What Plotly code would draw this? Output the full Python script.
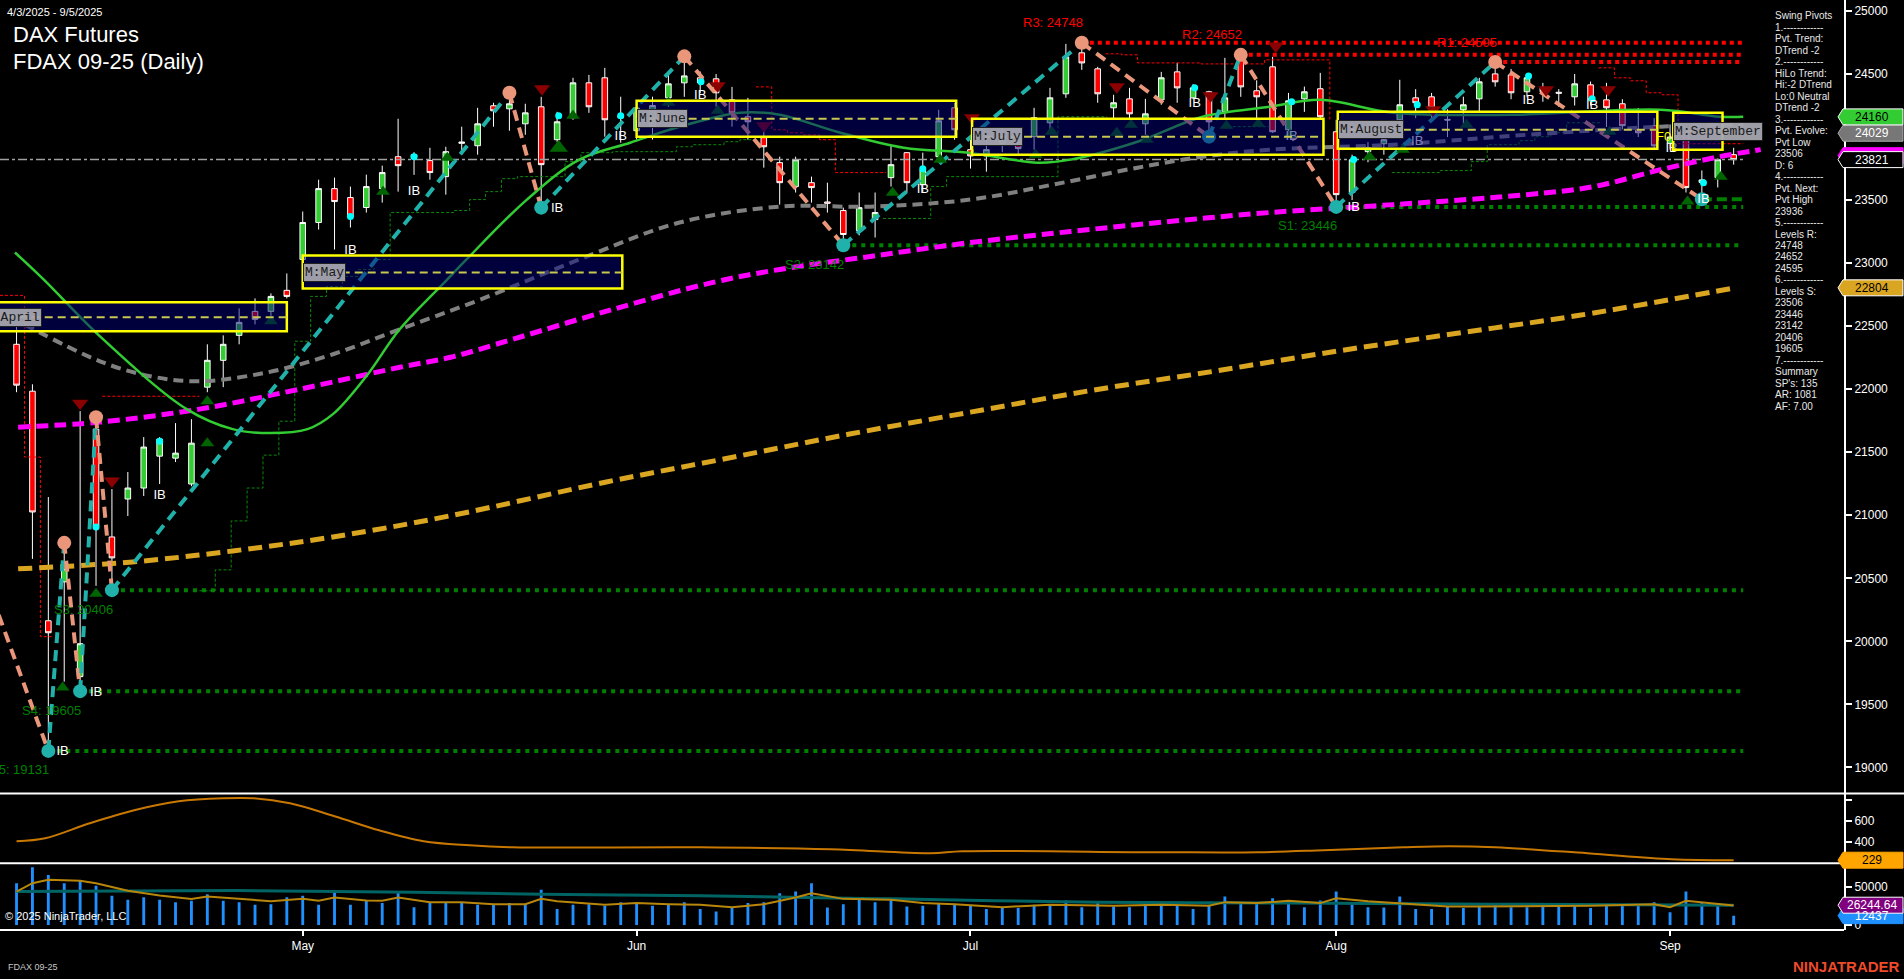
import plotly.graph_objects as go

# ---------------- DATA ----------------
bar_index = list(range(109))  # daily bars 2025-04-03 .. 2025-09-05
month_ticks = [18, 39, 60, 83, 104]
month_labels = ["May", "Jun", "Jul", "Aug", "Sep"]
price_ticks = [19000, 19500, 20000, 20500, 21000, 21500, 22000, 22500, 23000, 23500, 24500, 25000]

opens = [22356, 21984, 20163, 20472, 19720, 21683, 20828, 21129, 21216, 21469, 21453, 21248, 22016, 22229, 22427, 22617, 22617, 22784,
         23029, 23322, 23591, 23520, 23441, 23591, 23844, 23840, 23813, 23686, 23950, 23931, 24248, 24224, 24105, 24240, 23979, 24153, 24430, 24470, 24153,
         24050, 24080, 24311, 24430, 24470, 24462, 24295, 24161, 23995, 23797, 23607, 23638, 23485, 23417, 23258, 23345, 23678, 23876, 23622, 23844, 24232,
         23900, 23850, 23950, 23939, 24003, 24113, 24343, 24668, 24541, 24232, 24303, 24105, 24295, 24517, 24311, 24359, 24200, 24630, 24367, 24557, 24058, 24303, 24383,
         24042, 23560, 23884, 23947, 24137, 24311, 24319, 24140, 24216, 24303, 24501, 24493, 24359, 24390, 24355, 24319, 24414, 24295, 24264, 24058, 24090,
         23950, 24034, 23640, 23678, 23860]
highs = [22500, 22039, 21145, 20781, 21826, 21778, 21208, 21343, 21620, 21620, 21731, 21762, 22356, 22427, 22641, 22720, 22760, 22918,
         23409, 23662, 23678, 23607, 23702, 23773, 24145, 23880, 23915, 23923, 24082, 24232, 24272, 24351, 24264, 24319, 24200, 24470, 24493, 24549, 24320,
         24280, 24320, 24493, 24640, 24520, 24500, 24398, 24311, 24074, 23844, 23844, 23686, 23638, 23440, 23560, 23560, 23939, 23876, 23876, 24216, 24272,
         23980, 24000, 24080, 24020, 24232, 24390, 24739, 24748, 24557, 24335, 24390, 24303, 24517, 24588, 24420, 24367, 24628, 24655, 24450, 24636, 24350, 24400, 24509,
         24137, 23860, 23960, 24050, 24454, 24380, 24350, 24220, 24320, 24470, 24595, 24540, 24500, 24430, 24380, 24500, 24440, 24430, 24300, 24230, 24150,
         24100, 24060, 23735, 23830, 23915]
lows = [21976, 20654, 19131, 19680, 19605, 20440, 20406, 20994, 21153, 21248, 21422, 21230, 21976, 22016, 22356, 22514, 22530, 22720,
        22973, 23266, 23108, 23282, 23401, 23480, 23567, 23700, 23662, 23543, 23860, 23860, 24082, 24050, 24018, 23440, 23960, 24137, 24192, 24003, 23955,
        23980, 23980, 24240, 24319, 24350, 24240, 24082, 23979, 23757, 23464, 23560, 23480, 23401, 23142, 23220, 23203, 23607, 23560, 23560, 23797, 23979,
        23750, 23725, 23880, 23850, 23900, 24050, 24311, 24533, 24272, 24137, 24137, 24018, 24256, 24272, 24300, 24003, 24137, 24319, 24137, 24034, 24000, 24200, 24137,
        23446, 23500, 23800, 23860, 24100, 24150, 24150, 24000, 24100, 24200, 24400, 24300, 24320, 24280, 24240, 24250, 24250, 24080, 24060, 24000, 23900,
        23900, 23560, 23506, 23600, 23781]
closes = [22032, 21026, 20068, 20575, 19981, 20915, 20662, 21216, 21541, 21604, 21493, 21572, 22229, 22356, 22530, 22554, 22736, 22736,
          23322, 23591, 23488, 23369, 23607, 23718, 23773, 23860, 23718, 23884, 23960, 24105, 24208, 24264, 24192, 23781, 24121, 24430, 24240, 24137, 24170,
          24230, 24250, 24422, 24485, 24430, 24351, 24192, 24121, 23923, 23638, 23820, 23599, 23475, 23227, 23440, 23401, 23781, 23638, 23742, 24129, 24058,
          23850, 23900, 24000, 23908, 24153, 24311, 24636, 24588, 24343, 24272, 24184, 24184, 24470, 24390, 24390, 24121, 24311, 24398, 24319, 24042, 24287, 24359, 24161,
          23543, 23820, 23915, 23979, 24256, 24272, 24232, 24135, 24256, 24438, 24438, 24351, 24470, 24359, 24348, 24422, 24295, 24232, 24090, 24034, 23930,
          24000, 23599, 23660, 23820, 23821]
volumes = [55300, 76300, 66200, 55300, 58800, 51800, 38600, 33300, 36800, 33300, 30300, 32000, 40800, 32000, 30300, 26800, 27600, 36800,
           38600, 26800, 45200, 26800, 32000, 29000, 43000, 23700, 29000, 30300, 30300, 26800, 26800, 29000, 27600, 46500, 21100, 26800, 27600, 25400, 30300,
           30300, 25400, 27600, 30300, 21100, 18000, 23200, 29000, 30300, 42100, 44300, 55300, 23200, 27600, 33300, 30300, 33300, 24600, 25400, 29000, 26800,
           25400, 21100, 22400, 22400, 26800, 27600, 32500, 23700, 29000, 24600, 23700, 27600, 25900, 25400, 21100, 26800, 37700, 30300, 29000, 35500, 32000, 23700, 32500,
           44300, 29000, 23700, 23200, 37700, 21100, 21100, 24600, 22400, 25400, 26800, 23700, 23700, 25400, 25400, 25400, 22400, 27600, 25400, 25400, 30300,
           17100, 44300, 29000, 29000, 12437]

# moving averages
sma_fast_x = [-0.1, 1.7, 5.25, 10.7, 13.6, 15.9, 18.3, 19.9, 22.0, 24.1, 27.1, 28.3, 32.1, 35.4, 38.6, 41.7, 45.5, 48.0, 51.6, 55.8, 59.9, 64.2, 66.3, 70.5, 74.6, 78.8, 82.0, 86.6, 94.1, 103.4, 107.1, 108.6]
sma_fast_y = [23084, 22871, 22419, 21842, 21683, 21652, 21683, 21802, 22103, 22475, 22871, 23029, 23504, 23821, 23955, 24082, 24193, 24177, 24042, 23915, 23876, 23797, 23821, 23963, 24161, 24240, 24295, 24193, 24177, 24216, 24161, 24160]
sma_mid_x = [0.5, 5.25, 8.4, 11.5, 15.8, 19.9, 24.1, 29.2, 35.4, 41.7, 48.0, 53.7, 60.0, 65.2, 70.5, 74.6, 78.8, 86.6, 95.0, 103.4, 108.6]
sma_mid_y = [22514, 22221, 22103, 22063, 22134, 22277, 22475, 22712, 23029, 23322, 23448, 23448, 23504, 23623, 23757, 23844, 23900, 23939, 24018, 24082, 24100]
sma_slow_x = [0.1, 5.25, 11.5, 17.8, 24.1, 27.3, 31.2, 37.5, 43.8, 48.0, 53.7, 60.0, 66.3, 72.5, 78.8, 86.6, 95.0, 99.2, 103.4, 107.1, 109.7]
sma_slow_y = [21699, 21739, 21842, 22000, 22174, 22253, 22396, 22633, 22847, 22950, 23053, 23163, 23251, 23330, 23401, 23464, 23543, 23607, 23741, 23844, 23900]
sma_200_x = [0.1, 7.3, 13.6, 19.9, 27.2, 37.1, 44.8, 52.4, 60.0, 67.7, 75.3, 83.0, 90.6, 98.3, 108.1]
sma_200_y = [20575, 20630, 20717, 20828, 20994, 21264, 21454, 21644, 21818, 21992, 22142, 22301, 22443, 22586, 22804]

# swing pivots
pivot_x = [-5, 2, 3, 4, 5, 6, 31, 33, 42, 52, 67, 75, 77, 83, 93, 106]
pivot_y = [21550, 19131, 20781, 19605, 21778, 20406, 24351, 23440, 24640, 23142, 24748, 24003, 24652, 23446, 24595, 23506]

# support / resistance levels
res_names = ["R3", "R2", "R1"]
res_x = [67, 77, 93]
res_y = [24748, 24652, 24595]
sup_names = ["S5", "S4", "S3", "S2", "S1"]
sup_x = [2, 4, 6, 52, 83]
sup_y = [19131, 19605, 20406, 23142, 23446]
evolve_x = 106
evolve_y = 23506
last_price = 23821
level_end = 108.6

# trailing step lines
green_steps = [
    ([11.5, 12.5, 13.5, 14.5, 15.5, 16.5, 17.5, 18.5, 19.5, 20.5, 21.5, 22.5, 23.5, 27.5, 28.5, 29.5, 30.5, 31.5, 34.5, 35.5, 37.5, 41.5, 42.5, 44.5, 45.5, 46.6],
     [20401, 20567, 20955, 21216, 21477, 21746, 22380, 22736, 22815, 22894, 22950, 23029, 23401, 23417, 23504, 23567, 23670, 23686, 23805, 23876, 23884, 23923, 23939, 23963, 23979, 23979]),
    ([54.5, 57.5, 58.5, 65.5, 68.6], [23354, 23607, 23686, 24161, 24161]),
    ([76.5, 78.8], [24082, 24082]),
    ([86.5, 89.5, 91.5, 92.5, 94.5, 95.5, 96.5, 97.5, 99.7], [23718, 23734, 23805, 23939, 23971, 24003, 24034, 24113, 24113]),
]
red_steps = [
    ([-1.04, 0.5, 1.5, 2.3], [22744, 21462, 20037, 20037]),
    ([5.4, 11.5], [21944, 21944]),
    ([46.5, 47.5, 48.5, 49.5, 50.5, 51.5, 54.7], [24398, 24058, 24034, 24018, 23979, 23718, 23718]),
    ([68.5, 69.5, 70.5, 74.5, 78.5, 82.6, 82.6], [24660, 24652, 24588, 24580, 24612, 24612, 24137]),
    ([99.5, 100.5, 101.5, 102.5, 103.5, 104.5, 108.6], [24549, 24470, 24446, 24351, 24335, 23947, 23947]),
]

# markers
ib_x = [2.9, 5.0, 9.0, 21.0, 25.0, 34.0, 38.0, 43.0, 57.0, 74.1, 80.2, 84.1, 88.1, 95.1, 99.1, 104.1, 106.1]
ib_y = [19126, 19593, 21153, 23100, 23567, 23433, 24003, 24327, 23583, 24264, 24003, 23441, 23963, 24288, 24248, 23908, 23504]
up_tri_x = [2.9, 5.0, 12.0, 12.0, 16.0, 23.05, 27.1, 35.0, 41.0, 44.1, 55.1, 58.1, 64.1, 65.1, 69.2, 70.1, 71.1, 76.1, 78.1, 80.1, 85.1, 87.2, 91.2, 100.2, 107.2, 105.1]
up_tri_y = [19633, 20377, 21905, 21572, 22538, 23567, 23836, 24169, 24272, 24208, 23559, 23820, 23860, 24042, 24034, 24098, 23979, 24090, 24105, 24018, 23844, 23900, 24098, 24042, 23686, 23488]
big_up_x = [34.1]
big_up_y = [23915]
dn_tri_x = [4.0, 6.0, 33.05, 44.1, 47.0, 60.1, 69.2, 75.1, 79.2, 89.1, 96.2, 100.1]
dn_tri_y = [21889, 21271, 24383, 24406, 24090, 24153, 24398, 24327, 24723, 24216, 24375, 24375]
cyan_x = [5.0, 9.0, 21.0, 25.0, 34.1, 38.0, 43.05, 57.0, 74.1, 80.2, 84.1, 88.1, 95.1, 99.1, 106.1]
cyan_y = [20907, 21588, 23369, 23844, 24169, 24169, 24438, 23749, 24390, 24280, 23821, 24256, 24485, 24303, 23638]

# month boxes: name, first bar, last bar, low, high, mid
month_names = ["M:April", "M:May", "M:June", "M:July", "M:August", "M:September"]
month_x0 = [-1.5, 18.0, 39.0, 60.1, 83.1, 104.2]
month_x1 = [17.0, 38.1, 59.1, 82.2, 103.2, 107.3]
month_lo = [22459, 22799, 24003, 23860, 23908, 23900]
month_hi = [22689, 23061, 24288, 24145, 24200, 24193]
month_mid = [22570, 22926, 24145, 24003, 24058, 24045]

# lower panels
atr_x = [0, 1.8, 4.6, 7.4, 10.2, 13.0, 14.9, 17.2, 20.0, 22.8, 25.6, 28.5, 31.2, 43.0, 51.2, 57.5, 59.5, 71.9, 78.1, 82.2, 87.2, 90.1, 93.0, 98.8, 104.1, 108.0]
atr_y = [410, 438, 581, 705, 790, 819, 819, 771, 648, 514, 410, 371, 352, 352, 333, 295, 314, 305, 305, 324, 352, 362, 352, 295, 238, 229]
vma_long_x = [0, 14, 25, 33, 43, 55, 68, 80, 93, 108]
vma_long_y = [44300, 45600, 43400, 40800, 38600, 34600, 30300, 29000, 27600, 26244.64]
vma_short_x = [0, 1, 2, 4, 5, 7, 9, 11, 12, 14, 16, 18, 19, 20, 22, 23, 24, 26, 28, 30, 32, 33, 34, 37, 39, 41, 43, 45, 47, 49, 50, 52, 55, 57, 59, 62, 65, 69, 72, 75, 76, 78, 80, 82, 83, 85, 87, 88, 90, 92, 96, 99, 103, 104, 105, 107, 108]
vma_short_y = [44300, 55300, 59700, 58400, 55300, 45200, 39000, 34600, 37700, 34600, 31600, 34600, 32000, 36300, 32500, 32000, 36300, 30300, 30300, 27600, 27600, 34600, 31600, 26800, 29000, 27600, 26800, 23700, 27600, 36300, 42100, 34600, 33300, 29000, 27600, 23700, 26800, 25400, 26800, 25400, 30300, 29000, 32000, 29000, 35500, 31600, 29000, 27600, 24600, 24600, 24600, 25400, 27600, 23700, 32000, 27600, 26000]

info_lines = ["Swing Pivots", "1.------------", "Pvt. Trend:", "DTrend -2", "2.------------", "HiLo Trend:",
              "Hi:-2 DTrend", "Lo:0 Neutral", "DTrend -2", "3.------------", "Pvt. Evolve:", "Pvt Low", "23506",
              "D: 6", "4.------------", "Pvt. Next:", "Pvt High", "23936", "5.------------", "Levels R:", "24748",
              "24652", "24595", "6.------------", "Levels S:", "23506", "23446", "23142", "20406", "19605",
              "7.------------", "Summary", "SP's: 135", "AR: 1081", "AF: 7.00"]

# ---------------- GEOMETRY ----------------
W, H = 1904, 979
PLOT_RIGHT = 1844
X_RANGE = [-1.04, 114.94]
Y1_RANGE = [18794, 25087]; Y1_PX = (0, 795)
Y2_RANGE = [200, 866];     Y2_PX = (795, 865)
Y3_RANGE = [-6580, 81600]; Y3_PX = (865, 932)
FONT = "Liberation Sans, Arial, sans-serif"
MONO = "Liberation Mono, Courier New, monospace"


def dom(pxr):
    return [1 - pxr[1] / H, 1 - pxr[0] / H]


def vpx(v, rng, pxr):
    return pxr[0] + (rng[1] - v) / (rng[1] - rng[0]) * (pxr[1] - pxr[0])


def xp(px):
    return px / W


def yp(px):
    return 1 - px / H


fig = go.Figure()
shapes = []
annotations = []

# level lines
for x0, v in zip(res_x, res_y):
    fig.add_trace(go.Scatter(x=[x0, level_end], y=[v, v], mode="lines",
                             line=dict(color="#ff0000", width=4, dash="4px,4px"), hoverinfo="skip"))
for x0, v in zip(sup_x, sup_y):
    fig.add_trace(go.Scatter(x=[x0, level_end], y=[v, v], mode="lines",
                             line=dict(color="#008000", width=4, dash="4px,5px"), hoverinfo="skip"))
fig.add_trace(go.Scatter(x=[evolve_x, level_end], y=[evolve_y, evolve_y], mode="lines",
                         line=dict(color="#008000", width=4, dash="10px,5px"), hoverinfo="skip"))

# step lines
for sx, sy in green_steps:
    fig.add_trace(go.Scatter(x=sx, y=sy, mode="lines", line_shape="hv",
                             line=dict(color="#0a8a0a", width=1, dash="3px,2px"), hoverinfo="skip"))
for sx, sy in red_steps:
    fig.add_trace(go.Scatter(x=sx, y=sy, mode="lines", line_shape="hv",
                             line=dict(color="#ff0000", width=1, dash="3px,2px"), hoverinfo="skip"))

# last price line
fig.add_trace(go.Scatter(x=[X_RANGE[0], level_end], y=[last_price, last_price], mode="lines",
                         line=dict(color="#a0a0a0", width=1.5, dash="dashdot"), hoverinfo="skip"))

# candles
fig.add_trace(go.Candlestick(x=bar_index, open=opens, high=highs, low=lows, close=closes,
                             increasing=dict(line=dict(color="white", width=1), fillcolor="#33cc33"),
                             decreasing=dict(line=dict(color="white", width=1), fillcolor="#ff0000"),
                             whiskerwidth=0, hoverinfo="skip"))

# moving averages
fig.add_trace(go.Scatter(x=sma_200_x, y=sma_200_y, mode="lines", line_shape="spline",
                         line=dict(color="#daa520", width=5, dash="14px,7px"), hoverinfo="skip"))
fig.add_trace(go.Scatter(x=sma_slow_x, y=sma_slow_y, mode="lines", line_shape="spline",
                         line=dict(color="#ff00ff", width=5, dash="12px,6px"), hoverinfo="skip"))
fig.add_trace(go.Scatter(x=sma_mid_x, y=sma_mid_y, mode="lines", line_shape="spline",
                         line=dict(color="#808080", width=4, dash="10px,6px"), hoverinfo="skip"))
fig.add_trace(go.Scatter(x=sma_fast_x, y=sma_fast_y, mode="lines", line_shape="spline",
                         line=dict(color="#32cd32", width=2.5), hoverinfo="skip"))

# swing lines
for k in range(len(pivot_x) - 1):
    up = pivot_y[k + 1] > pivot_y[k]
    fig.add_trace(go.Scatter(x=[pivot_x[k], pivot_x[k + 1]], y=[pivot_y[k], pivot_y[k + 1]], mode="lines",
                             line=dict(color="#20b2aa" if up else "#e9967a", width=4, dash="11px,7px"),
                             hoverinfo="skip"))
hi_x = [x for k, x in enumerate(pivot_x) if k > 0 and (k % 2 == 0)]
hi_y = [y for k, y in enumerate(pivot_y) if k > 0 and (k % 2 == 0)]
lo_x = [x for k, x in enumerate(pivot_x) if k % 2 == 1]
lo_y = [y for k, y in enumerate(pivot_y) if k % 2 == 1]
fig.add_trace(go.Scatter(x=hi_x, y=hi_y, mode="markers",
                         marker=dict(color="#e9967a", size=14, line=dict(width=0)), hoverinfo="skip"))
fig.add_trace(go.Scatter(x=lo_x, y=lo_y, mode="markers",
                         marker=dict(color="#20b2aa", size=14, line=dict(width=0)), hoverinfo="skip"))

# signal markers
fig.add_trace(go.Scatter(x=up_tri_x, y=up_tri_y, mode="markers",
                         marker=dict(symbol="triangle-up", color="#006400", size=12), hoverinfo="skip"))
fig.add_trace(go.Scatter(x=big_up_x, y=big_up_y, mode="markers",
                         marker=dict(symbol="triangle-up", color="#006400", size=16), hoverinfo="skip"))
fig.add_trace(go.Scatter(x=dn_tri_x, y=dn_tri_y, mode="markers",
                         marker=dict(symbol="triangle-down", color="#8b0000", size=14), hoverinfo="skip"))
fig.add_trace(go.Scatter(x=cyan_x, y=cyan_y, mode="markers",
                         marker=dict(color="#00ffff", size=7), hoverinfo="skip"))
fig.add_trace(go.Scatter(x=ib_x, y=ib_y, mode="text", text=["IB"] * len(ib_x),
                         textfont=dict(color="white", size=13, family=FONT), hoverinfo="skip"))

# lower panel 1 (orange oscillator)
fig.add_trace(go.Scatter(x=atr_x, y=atr_y, yaxis="y2", mode="lines", line_shape="spline",
                         line=dict(color="#c87800", width=2), hoverinfo="skip"))
# lower panel 2 (volume)
fig.add_trace(go.Bar(x=bar_index, y=volumes, yaxis="y3", marker=dict(color="#1e90ff", line=dict(width=0)),
                     width=0.18, hoverinfo="skip"))
fig.add_trace(go.Scatter(x=vma_long_x, y=vma_long_y, yaxis="y3", mode="lines", line_shape="spline",
                         line=dict(color="#006464", width=3), hoverinfo="skip"))
fig.add_trace(go.Scatter(x=vma_short_x, y=vma_short_y, yaxis="y3", mode="lines",
                         line=dict(color="#b8860b", width=2), hoverinfo="skip"))

# month boxes (semi transparent overlay)
for nm, a, b, lo, hi, mid in zip(month_names, month_x0, month_x1, month_lo, month_hi, month_mid):
    shapes.append(dict(type="rect", xref="x", yref="y", x0=a, x1=b, y0=lo, y1=hi,
                       fillcolor="rgba(0,0,120,0.5)", line=dict(color="#ffff00", width=2.5), layer="above"))
    shapes.append(dict(type="line", xref="x", yref="y", x0=a, x1=b, y0=mid, y1=mid,
                       line=dict(color="#c8c850", width=2, dash="8px,5px"), layer="above"))
    if nm == "M:April":
        annotations.append(dict(x=1.6, y=mid, xref="x", yref="y", text=nm, showarrow=False,
                                xanchor="right", yanchor="middle", bgcolor="rgba(165,165,175,0.95)",
                                bordercolor="#202020", borderwidth=1, borderpad=1,
                                font=dict(family=MONO, size=13, color="#1a1a1a")))
    else:
        annotations.append(dict(x=a, y=mid, xref="x", yref="y", text=nm, showarrow=False,
                                xanchor="left", yanchor="middle", bgcolor="rgba(165,165,175,0.95)",
                                bordercolor="#202020", borderwidth=1, borderpad=1,
                                font=dict(family=MONO, size=13, color="#1a1a1a")))
annotations.append(dict(x=103.6, y=24003, xref="x", yref="y", text="F0", showarrow=False,
                        font=dict(family=FONT, size=13, color="#ffff00")))

# level labels
for nm, x0, v in zip(res_names, res_x, res_y):
    annotations.append(dict(x=x0 - 1.8, y=v, xref="x", yref="y", yshift=20, text=f"{nm}: {v}",
                            showarrow=False, font=dict(family=FONT, size=13, color="#ff0000")))
for nm, x0, v in zip(sup_names, sup_x, sup_y):
    annotations.append(dict(x=x0 - 1.8, y=v, xref="x", yref="y", yshift=-19, text=f"{nm}: {v}",
                            showarrow=False, font=dict(family=FONT, size=13, color="#008000")))

# panel separators
shapes.append(dict(type="line", xref="paper", yref="paper", x0=0, x1=1, y0=yp(795), y1=yp(795),
                   line=dict(color="white", width=2), layer="above"))
for yy in (865, 932):
    shapes.append(dict(type="line", xref="paper", yref="paper", x0=0, x1=xp(PLOT_RIGHT), y0=yp(yy), y1=yp(yy),
                       line=dict(color="white", width=2), layer="above"))


# price tags on the axis
def price_tag(v, rng, pxr, text, bg, fg, border=None):
    yc = vpx(v, rng, pxr)
    pts = [(1838, yc), (1843, yc - 8), (1903, yc - 8), (1903, yc + 8), (1843, yc + 8)]
    path = "M " + " L ".join(f"{xp(x):.5f},{yp(y):.5f}" for x, y in pts) + " Z"
    shapes.append(dict(type="path", xref="paper", yref="paper", path=path, fillcolor=bg,
                       line=dict(color=border or bg, width=1), layer="above"))
    annotations.append(dict(xref="paper", yref="paper", x=xp(1872), y=yp(yc), text=text, showarrow=False,
                            xanchor="center", yanchor="middle", font=dict(family=FONT, size=12, color=fg)))


price_tag(24030, Y1_RANGE, Y1_PX, "24029", "#777777", "white", "#aaaaaa")
price_tag(24160, Y1_RANGE, Y1_PX, "24160", "#33cc33", "black", "#ffffff")
price_tag(23852, Y1_RANGE, Y1_PX, "", "#ff00ff", "white")
price_tag(last_price, Y1_RANGE, Y1_PX, "23821", "#000000", "white", "#ffffff")
price_tag(22804, Y1_RANGE, Y1_PX, "22804", "#daa520", "black", "#ffffff")
price_tag(229, Y2_RANGE, Y2_PX, "229", "#ffa500", "black")
price_tag(12437, Y3_RANGE, Y3_PX, "12437", "#1e90ff", "white")
price_tag(26244.64, Y3_RANGE, Y3_PX, "26244.64", "#800080", "white", "#ffffff")

# text blocks
annotations.append(dict(xref="paper", yref="paper", x=xp(5), y=yp(12), text="4/3/2025 - 9/5/2025",
                        showarrow=False, xanchor="left", yanchor="middle", font=dict(family=FONT, size=11, color="white")))
annotations.append(dict(xref="paper", yref="paper", x=xp(11), y=yp(35), text="DAX Futures",
                        showarrow=False, xanchor="left", yanchor="middle", font=dict(family=FONT, size=22, color="white")))
annotations.append(dict(xref="paper", yref="paper", x=xp(11), y=yp(62), text="FDAX 09-25 (Daily)",
                        showarrow=False, xanchor="left", yanchor="middle", font=dict(family=FONT, size=22, color="white")))
for k, line in enumerate(info_lines):
    annotations.append(dict(xref="paper", yref="paper", x=xp(1773), y=yp(16 + k * 11.5), text=line,
                            showarrow=False, xanchor="left", yanchor="middle",
                            font=dict(family=FONT, size=10, color="#e8e8e8")))
annotations.append(dict(xref="paper", yref="paper", x=xp(3), y=yp(918), text="© 2025 NinjaTrader, LLC",
                        showarrow=False, xanchor="left", yanchor="middle", font=dict(family=FONT, size=11, color="white")))
annotations.append(dict(xref="paper", yref="paper", x=xp(6), y=yp(969), text="FDAX 09-25",
                        showarrow=False, xanchor="left", yanchor="middle", font=dict(family=FONT, size=9, color="#c8c8c8")))
annotations.append(dict(xref="paper", yref="paper", x=xp(1902), y=yp(968), text="<b>NINJATRADER</b>",
                        showarrow=False, xanchor="right", yanchor="middle", font=dict(family=FONT, size=15, color="#ee4b2b")))

axis_common = dict(showgrid=False, zeroline=False, side="right", anchor="x", showline=True, linecolor="white",
                   linewidth=2, ticks="outside", ticklen=6, tickcolor="white", tickwidth=1.5,
                   tickfont=dict(family=FONT, size=12, color="white"), fixedrange=True, tickformat="d")

fig.update_layout(
    width=W, height=H, margin=dict(l=0, r=0, t=0, b=0),
    paper_bgcolor="black", plot_bgcolor="black", showlegend=False, boxgap=0.5,
    xaxis=dict(domain=[0, PLOT_RIGHT / W], range=X_RANGE, anchor="y3", showgrid=False, zeroline=False,
               showline=False, rangeslider=dict(visible=False), tickmode="array", tickvals=month_ticks,
               ticktext=month_labels, ticks="outside", ticklen=5, tickcolor="white", tickwidth=1.5,
               tickfont=dict(family=FONT, size=12, color="white")),
    yaxis=dict(domain=dom(Y1_PX), range=Y1_RANGE, tickmode="array", tickvals=price_ticks,
               ticktext=[str(t) for t in price_ticks], **axis_common),
    yaxis2=dict(domain=dom(Y2_PX), range=Y2_RANGE, tickmode="array", tickvals=[400, 600, 800],
                ticktext=["400", "600", ""], **axis_common),
    yaxis3=dict(domain=dom(Y3_PX), range=Y3_RANGE, tickmode="array", tickvals=[0, 50000],
                ticktext=["0", "50000"], **axis_common),
    shapes=shapes, annotations=annotations,
)

fig.write_html("out.html", config={"displayModeBar": False},
               post_script="document.body.style.margin='0';document.body.style.overflow='hidden';")
